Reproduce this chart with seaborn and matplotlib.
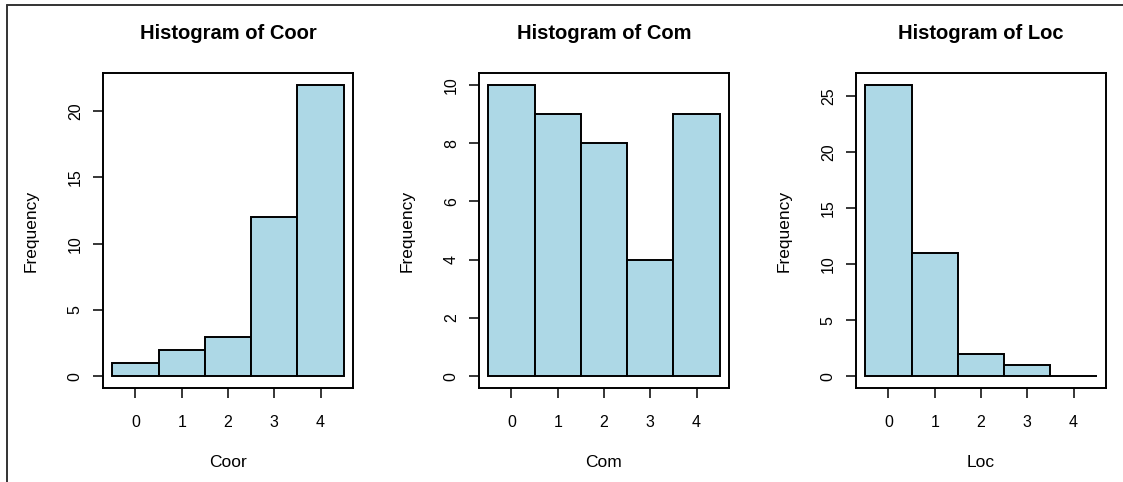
import numpy as np
import pandas as pd
import matplotlib
matplotlib.use("Agg")
import matplotlib.pyplot as plt
from matplotlib.lines import Line2D
import seaborn as sns

# Score levels and frequencies for each variable
levels = [0, 1, 2, 3, 4]
coor_counts = [1, 2, 3, 12, 22]
com_counts = [10, 9, 8, 4, 9]
loc_counts = [26, 11, 2, 1, 0]

panels = [
    ("Coor", coor_counts, [0, 5, 10, 15, 20]),
    ("Com", com_counts, [0, 2, 4, 6, 8, 10]),
    ("Loc", loc_counts, [0, 5, 10, 15, 20, 25]),
]

sns.set_style("ticks")
plt.rcParams["font.family"] = ["Liberation Sans", "DejaVu Sans"]
plt.rcParams["text.color"] = "black"
plt.rcParams["axes.labelcolor"] = "black"

fig = plt.figure(figsize=(11.23, 4.82), dpi=100)
W, H = 1123, 482

edges = [-0.5, 0.5, 1.5, 2.5, 3.5, 4.5]
lefts = [103, 479, 856]
box_w, box_top, box_bot = 250, 73, 388

for (name, counts, yticks), left in zip(panels, lefts):
    ax = fig.add_axes([left / W, (H - box_bot) / H, box_w / W, (box_bot - box_top) / H])
    df = pd.DataFrame({name: levels, "n": counts})
    sns.histplot(data=df, x=name, weights="n", bins=edges, ax=ax,
                 color="#ADD8E6", edgecolor="black", linewidth=1.4, alpha=1)
    # R-style 4% padding around the data range
    xr = edges[-1] - edges[0]
    ax.set_xlim(edges[0] - 0.04 * xr, edges[-1] + 0.04 * xr)
    ymax = max(counts)
    ax.set_ylim(-0.04 * ymax, ymax * 1.04)
    ax.set_xticks(levels)
    ax.set_yticks(yticks)
    ax.tick_params(axis="both", direction="out", length=7.5, width=1.1,
                   labelsize=11.5, colors="black")
    ax.tick_params(axis="x", pad=12)
    ax.tick_params(axis="y", pad=7)
    for lbl in ax.get_yticklabels():
        lbl.set_rotation(90)
        lbl.set_va("center")
    for sp in ax.spines.values():
        sp.set_visible(True)
        sp.set_linewidth(1.4)
        sp.set_color("black")
    ax.set_title(f"Histogram of {name}", fontsize=14.5, fontweight="bold",
                 color="black", y=1.08)
    ax.set_xlabel(name, fontsize=12.5)
    ax.set_ylabel("Frequency", fontsize=12.5)
    ax.xaxis.set_label_coords(0.5, -0.213)
    ax.yaxis.set_label_coords(-0.256, 0.5)

# Frame along the top and left edges
fig.add_artist(Line2D([6.5 / W, 1.0], [1 - 4.5 / H, 1 - 4.5 / H],
                      transform=fig.transFigure, color="#333333", linewidth=1.4))
fig.add_artist(Line2D([6.5 / W, 6.5 / W], [0.0, 1 - 4.5 / H],
                      transform=fig.transFigure, color="#333333", linewidth=1.4))

fig.savefig("out.png", dpi=100)
